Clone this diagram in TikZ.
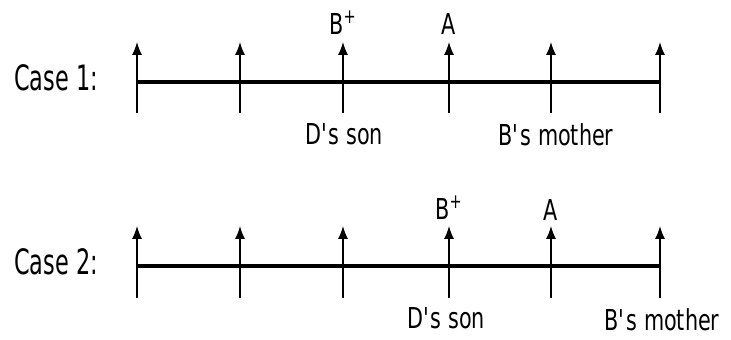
\documentclass[tikz,border=0pt]{standalone}
\usepackage{fontspec}
\setmainfont[FakeStretch=0.72]{DejaVu Sans}
\newfontfamily\casefont[FakeStretch=0.64]{DejaVu Sans}
\usetikzlibrary{arrows.meta}
\begin{document}
\begin{tikzpicture}[
    x=0.02cm, y=-0.02cm,
    font=\fontsize{16.4}{18}\selectfont,
    tick/.style={line width=0.8pt, -{Latex[length=2.6mm,width=2mm]}},
    axis/.style={line width=2.2pt},
    lbl/.style={anchor=base, inner sep=0pt},
    caselbl/.style={anchor=base west, inner sep=0pt, font=\casefont\fontsize{19.9}{22}\selectfont}
]
\useasboundingbox (0,0) rectangle (731,340);

% === Case 1 ===
\node[caselbl] (case1) at (14,91) {Case 1:};
\foreach \i/\x in {1/137,2/240,3/343,4/449,5/551,6/660} {
    \coordinate (c1b\i) at (\x,113);
    \coordinate (c1m\i) at (\x,82);
    \coordinate (c1t\i) at (\x,42);
    \draw[tick] (c1b\i) -- (c1t\i);
}
\draw[axis] (c1m1) -- (c1m6);

% labels
\node[lbl] (c1bplus) at (343,35) {B\textsuperscript{+}};
\node[lbl] (c1a) at (449,35) {A};
\node[lbl] (c1son) at (344,145) {D\textquotesingle s son};
\node[lbl] (c1mother) at (556,146) {B\textquotesingle s mother};

% === Case 2 ===
\node[caselbl] (case2) at (14,275) {Case 2:};
\foreach \i/\x in {1/137,2/240,3/343,4/449,5/551,6/660} {
    \coordinate (c2b\i) at (\x,298);
    \coordinate (c2m\i) at (\x,266);
    \coordinate (c2t\i) at (\x,226);
    \draw[tick] (c2b\i) -- (c2t\i);
}
\draw[axis] (c2m1) -- (c2m6);

% labels
\node[lbl] (c2bplus) at (449,220) {B\textsuperscript{+}};
\node[lbl] (c2a) at (551,221) {A};
\node[lbl] (c2son) at (446,329) {D\textquotesingle s son};
\node[lbl] (c2mother) at (662,331) {B\textquotesingle s mother};

\end{tikzpicture}
\end{document}
